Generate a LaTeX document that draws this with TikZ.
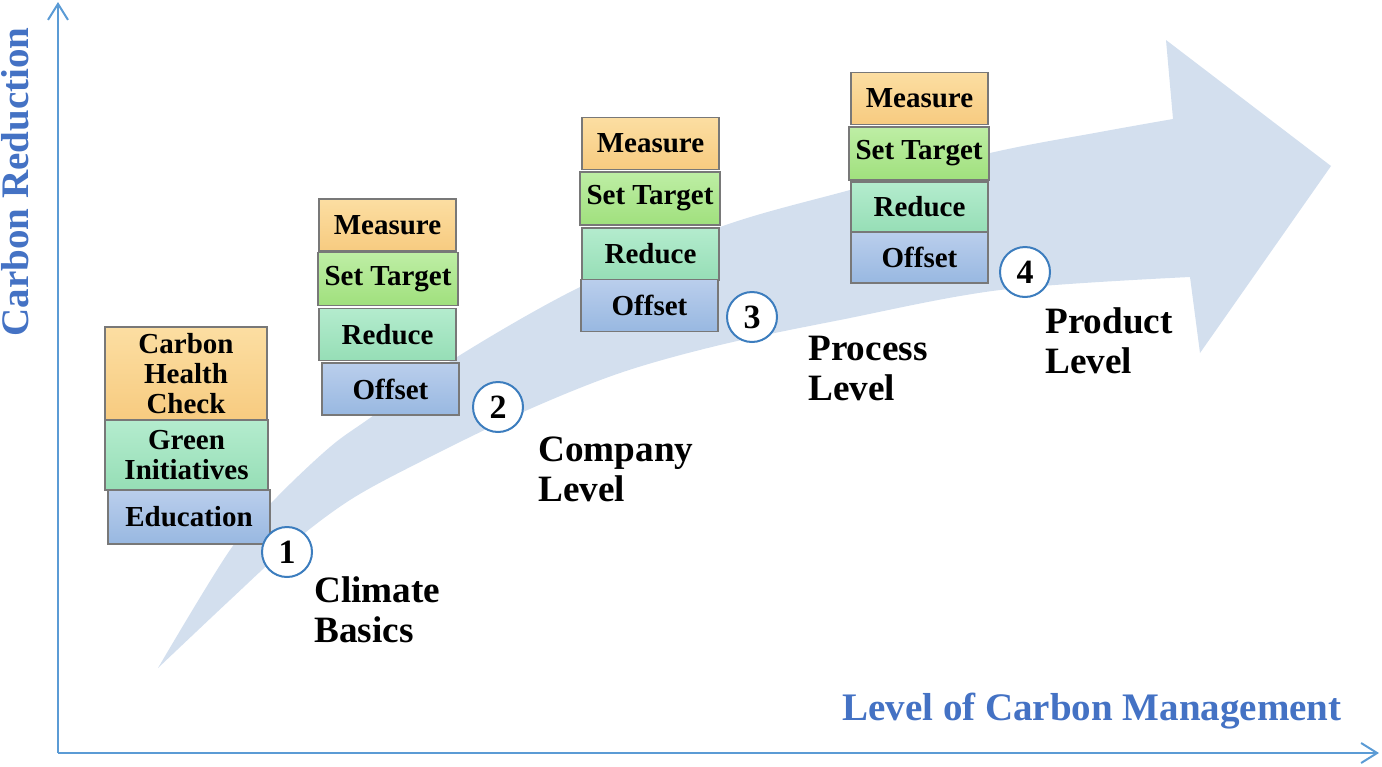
\documentclass[tikz,border=0pt]{standalone}
\usepackage{fontspec}
\setmainfont{Liberation Serif}
\usetikzlibrary{arrows.meta}
\definecolor{axisblue}{RGB}{91,155,213}
\definecolor{titleblue}{RGB}{68,114,196}
\definecolor{arrowfill}{RGB}{211,223,238}
\definecolor{circblue}{RGB}{60,125,190}
\definecolor{orangeT}{RGB}{252,222,162}
\definecolor{orangeB}{RGB}{247,203,128}
\definecolor{greenT}{RGB}{190,238,165}
\definecolor{greenB}{RGB}{160,224,125}
\definecolor{mintT}{RGB}{180,236,206}
\definecolor{mintB}{RGB}{150,222,182}
\definecolor{blueT}{RGB}{186,206,236}
\definecolor{blueB}{RGB}{152,184,225}
\definecolor{boxline}{RGB}{120,120,120}
\begin{document}
\begin{tikzpicture}[x=0.5pt,y=-0.5pt,
  box/.style={draw=boxline, line width=0.6pt, inner sep=0pt, align=center,
    font=\fontsize{14.5}{15}\selectfont\bfseries, text=black},
  wbox/.style={box, minimum width=68.5pt, minimum height=26pt},
  tbox/.style={box, minimum width=70pt, minimum height=26.5pt},
  obox/.style={top color=orangeT, bottom color=orangeB},
  gbox/.style={top color=greenT, bottom color=greenB},
  mbox/.style={top color=mintT, bottom color=mintB},
  bbox/.style={top color=blueT, bottom color=blueB},
  numc/.style={circle, draw=circblue, line width=1pt, fill=white, minimum size=25pt,
    inner sep=0pt, font=\fontsize{17}{17}\selectfont\bfseries},
  lbl/.style={anchor=north west, inner sep=0pt, align=left,
    font=\fontsize{18.6}{20}\selectfont\bfseries},
  axtitle/.style={inner sep=0pt, text=titleblue, font=\fontsize{19.5}{22}\selectfont\bfseries},
  axis/.style={draw=axisblue, line width=1pt, -{Straight Barb[length=8pt,width=10pt,line width=1pt]}}
]
\useasboundingbox (0,0) rectangle (1382,766);

% big curved arrow
\fill[arrowfill] plot[smooth, tension=0.55] coordinates {(158,668) (230,550) (277,497) (330,447) (370,418) (457,357) (580,287) (720,227) (850,190) (990,153) (1100,132) (1173,119)}
  -- (1166,40) -- (1331,166) -- (1200,353) -- (1190,277)
  -- plot[smooth, tension=0.55] coordinates {(1190,277) (1000,290) (840,320) (720,345) (620,373) (523,412) (420,462) (350,500) (290,545) (230,600) (158,668)} -- cycle;

% stack 1
\node[box, obox, minimum width=81pt, minimum height=46.5pt] (chc) at (186,373.5) {Carbon\\Health\\Check};
\node[box, mbox, minimum width=81.5pt, minimum height=35pt] (gi) at (186.5,455) {Green\\Initiatives};
\node[box, bbox, minimum width=81pt, minimum height=27pt] (edu) at (189,517) {Education};

% stack 2
\node[wbox, obox] (m2) at (387.5,225) {Measure};
\node[tbox, gbox] (s2) at (388,279) {Set Target};
\node[wbox, mbox] (r2) at (387.5,334.5) {Reduce};
\node[wbox, bbox] (o2) at (390.5,389) {Offset};

% stack 3
\node[wbox, obox] (m3) at (650.5,143.5) {Measure};
\node[tbox, gbox] (s3) at (650,198.5) {Set Target};
\node[wbox, mbox] (r3) at (650.5,254) {Reduce};
\node[wbox, bbox] (o3) at (649.5,305.5) {Offset};

% stack 4
\node[wbox, obox] (m4) at (919.5,98.5) {Measure};
\node[tbox, gbox] (s4) at (919,153.5) {Set Target};
\node[wbox, mbox, minimum height=25pt] (r4) at (919.5,207) {Reduce};
\node[wbox, bbox, minimum height=25.5pt] (o4) at (919.5,257.5) {Offset};

% numbered circles
\node[numc] (c1) at (287,552) {1};
\node[numc] (c2) at (498,407) {2};
\node[numc] (c3) at (752,317) {3};
\node[numc] (c4) at (1025,272) {4};

% level labels
\node[lbl] (l1) at (314,576) {Climate\\Basics};
\node[lbl] (l2) at (538,436) {Company\\Level};
\node[lbl] (l3) at (808,336) {Process\\Level};
\node[lbl] (l4) at (1045,307) {Product\\Level};

% axes
\coordinate (o) at (58,753);
\coordinate (ytop) at (58,2);
\coordinate (xend) at (1379,753);
\draw[axis] (o) -- (ytop);
\draw[axis] (o) -- (xend);
\node[axtitle, anchor=base east] (xt) at (1342,720) {Level of Carbon Management};
\node[axtitle, anchor=base, rotate=90] (yt) at (28,182) {Carbon Reduction};
\end{tikzpicture}
\end{document}
